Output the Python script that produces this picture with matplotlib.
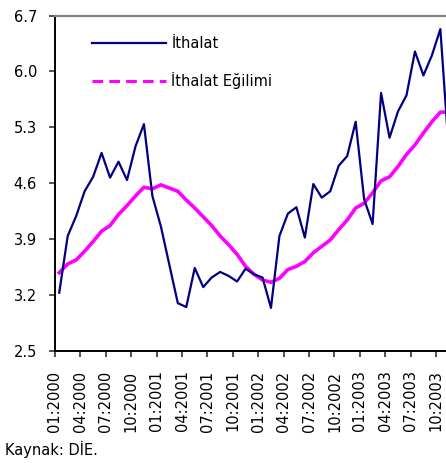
import matplotlib.pyplot as plt
from matplotlib.lines import Line2D
import numpy as np

# monthly data, 01:2000 .. 11:2003
ithalat = [3.23, 3.94, 4.19, 4.50, 4.68, 4.98, 4.67, 4.87, 4.64, 5.06, 5.34, 4.44,
           4.06, 3.58, 3.10, 3.05, 3.54, 3.30, 3.42, 3.49, 3.44, 3.37, 3.53, 3.46,
           3.42, 3.04, 3.94, 4.22, 4.30, 3.92, 4.59, 4.42, 4.50, 4.82, 4.94, 5.37,
           4.40, 4.09, 5.73, 5.17, 5.50, 5.70, 6.25, 5.95, 6.20, 6.53, 5.00]
egilim = [3.48, 3.59, 3.64, 3.75, 3.87, 4.00, 4.07, 4.21, 4.32, 4.44, 4.55, 4.53,
          4.58, 4.54, 4.50, 4.39, 4.29, 4.18, 4.07, 3.94, 3.83, 3.71, 3.56, 3.46,
          3.39, 3.36, 3.41, 3.52, 3.56, 3.62, 3.73, 3.81, 3.89, 4.02, 4.14, 4.29,
          4.35, 4.48, 4.63, 4.68, 4.81, 4.96, 5.08, 5.23, 5.37, 5.49, 5.49]
tick_labels = ["01:2000", "04:2000", "07:2000", "10:2000",
               "01:2001", "04:2001", "07:2001", "10:2001",
               "01:2002", "04:2002", "07:2002", "10:2002",
               "01:2003", "04:2003", "07:2003", "10:2003"]
y_ticks = [2.5, 3.2, 3.9, 4.6, 5.3, 6.0, 6.7]

plt.rcParams['font.family'] = ['DejaVu Sans']
fs = 10.5

fig = plt.figure(figsize=(4.46, 4.63), dpi=100)
ax = fig.add_axes([55 / 446, 112 / 463, 1 - 55 / 446, 335.5 / 463])

x = np.arange(len(ithalat))
ax.plot(x, ithalat, color="#000080", linewidth=1.6, zorder=3)
ax.plot(x, egilim, color="#FF00FF", linewidth=2.6, zorder=2)

# category axis: ticks on category boundaries, every 3 months
ax.set_xlim(-0.5, (446 - 59.2) / 8.47)
ax.set_xticks(np.arange(len(tick_labels)) * 3 - 0.5)
ax.set_xticklabels(tick_labels, rotation=90, fontsize=fs)
ax.set_ylim(2.5, 6.7)
ax.set_yticks(y_ticks)
ax.set_yticklabels([f"{v:.1f}" for v in y_ticks], fontsize=fs)
ax.tick_params(axis='both', direction='out', length=4, width=1.2, color='#333333')
ax.tick_params(axis='x', pad=10)
ax.tick_params(axis='y', pad=9)

ax.spines['right'].set_visible(False)
ax.spines['top'].set_color('#808080')
ax.spines['top'].set_linewidth(1.6)
ax.spines['left'].set_linewidth(1.4)
ax.spines['bottom'].set_linewidth(1.4)

handles = [Line2D([], [], color="#000080", linewidth=1.6),
           Line2D([], [], color="#FF00FF", linewidth=2.2, dashes=(3.5, 2))]
ax.legend(handles, ["İthalat", "İthalat Eğilimi"], loc='upper left',
          bbox_to_anchor=(0.0946, 0.939), frameon=False, fontsize=fs,
          handlelength=5.1, handletextpad=0.35, labelspacing=1.45, borderpad=0,
          borderaxespad=0)

fig.text(5 / 446, 1 - 449 / 463, "Kaynak: DİE.", fontsize=fs, va='center', ha='left')

fig.savefig("out.png", dpi=100)
